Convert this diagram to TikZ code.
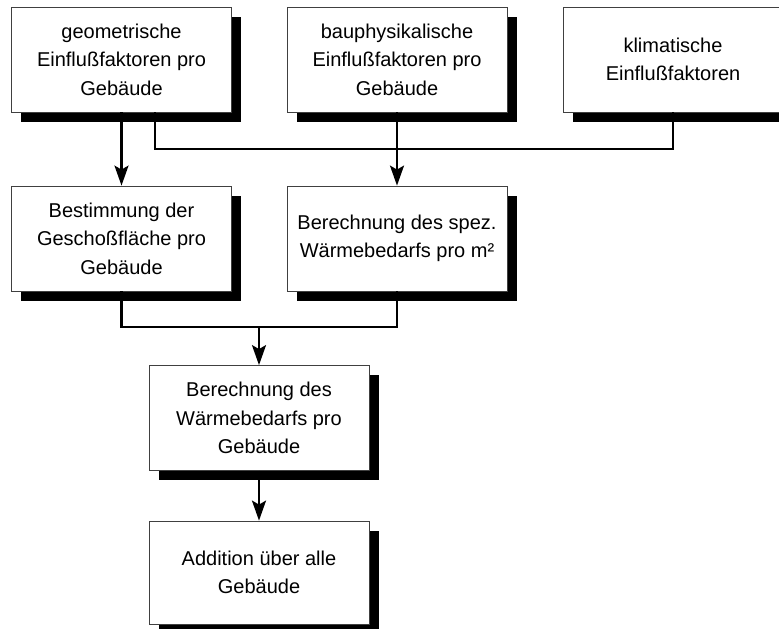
\documentclass[tikz,border=0pt]{standalone}
\usepackage{fontspec}
\setmainfont{Liberation Sans}
\usetikzlibrary{shadows,arrows.meta}
\tikzset{
  box/.style={draw=black!75, line width=0.8pt, fill=white, minimum width=220pt, minimum height=105pt,
    align=center, inner sep=0pt, font=\fontsize{20pt}{28.5pt}\selectfont,
    drop shadow={fill=black, opacity=1, shadow xshift=9.5pt, shadow yshift=-9.5pt}},
  conn/.style={line width=2.2pt, black},
  arr/.style={conn, -{Stealth[length=20pt, width=14pt, inset=4pt]}}
}
\begin{document}
\begin{tikzpicture}[x=1pt, y=-1pt]
\useasboundingbox (0,0) rectangle (779,629);
\clip (0,0) rectangle (779,629);
\node[box] (B1) at (121.5,59.5) {geometrische\\Einflußfaktoren pro\\Gebäude};
\node[box] (B2) at (397,59.5) {bauphysikalische\\Einflußfaktoren pro\\Gebäude};
\node[box] (B3) at (673,59.5) {klimatische\\Einflußfaktoren};
\node[box] (B4) at (121.5,238.5) {Bestimmung der\\Geschoßfläche pro\\Gebäude};
\node[box] (B5) at (397,238.5) {Berechnung des spez.\\Wärmebedarfs pro m²};
\node[box] (B6) at (259,418) {Berechnung des\\Wärmebedarfs pro\\Gebäude};
\node[box, minimum height=103pt] (B7) at (259,572.5) {Addition über alle\\Gebäude};
\coordinate (j1) at (397,149);
\coordinate (j2) at (259,327);
\draw[conn] ([xshift=33.5]B1.south) |- (j1) -| (B3.south);
\draw[arr] (B1.south) -- (B4.north);
\draw[arr] (B2.south) -- (B5.north);
\draw[conn] (B4.south) |- (j2) -| (B5.south);
\draw[arr] (j2) -- (B6.north);
\draw[arr] (B6.south) -- (B7.north);
\end{tikzpicture}
\end{document}
